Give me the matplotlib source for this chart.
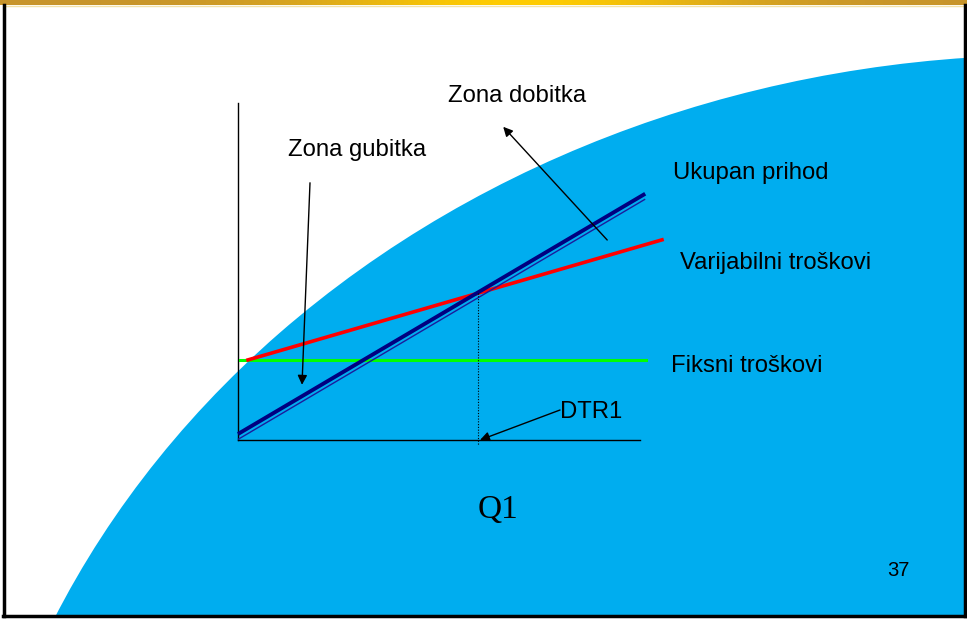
import numpy as np
import matplotlib
matplotlib.use('Agg')
import matplotlib.pyplot as plt
from matplotlib.patches import Ellipse, Rectangle

# podaci (Q u jedinicama, troskovi/prihod u jedinicama)
q_fiksni = [0.05, 10.2]
fiksni = [2.0, 2.0]
q_var = [0.25, 10.6]
var_tr = [1.93 + 0.29 * 0.25, 1.93 + 0.29 * 10.6]
q_prihod = [0.0, 10.18]
prihod = [0.15, 0.15 + 0.59 * 10.18]
q_dtr = 6.0
c_dtr = 1.93 + 0.29 * q_dtr

W, H = 967, 619
fig = plt.figure(figsize=(W / 100, H / 100), dpi=100)

# pozadina slajda
bg = fig.add_axes([0, 0, 1, 1])
bg.set_xlim(0, W)
bg.set_ylim(H, 0)
bg.axis('off')
okvir = Rectangle((4, 0), W - 7, H - 4, facecolor='white', edgecolor='none')
bg.add_patch(okvir)
el = Ellipse((1050, 1005), 2180, 1900, facecolor='#00adef', edgecolor='none')
bg.add_patch(el)
el.set_clip_path(okvir)

# zlatna traka gore
t = np.linspace(0, 1, 400)
g = np.exp(-((t - 0.54) / 0.22) ** 2)
c1 = np.array([0.78, 0.58, 0.17])
c2 = np.array([1.0, 0.80, 0.0])
traka = (c1[None, :] * (1 - g[:, None]) + c2[None, :] * g[:, None])[None, :, :]
bg.imshow(traka, extent=[0, W, 5, 0], aspect='auto', zorder=3)
bg.plot([4, W - 3], [6, 6], color='#f3e2a8', lw=1, zorder=3)
bg.plot([4, 4], [5, H - 3], color='black', lw=2.5, zorder=4)
bg.plot([W - 2.5, W - 2.5], [5, H - 3], color='black', lw=2.5, zorder=4)
bg.plot([3, W - 1], [H - 3.5, H - 3.5], color='black', lw=2.5, zorder=4)
bg.set_xlim(0, W)
bg.set_ylim(H, 0)

# grafikon
ax = fig.add_axes([0, 0, 1, 1])
ax.patch.set_alpha(0)
ax.axis('off')
ax.set_xlim(-238 / 40, (W - 238) / 40)
ax.set_ylim((440 - H) / 40, 440 / 40)

ax.plot([0, 0], [0, 8.425], color='black', lw=1)
ax.plot([0, 10.05], [0, 0], color='black', lw=1)
ax.plot(q_fiksni, fiksni, color='#00ff00', lw=2.2)
ax.plot(q_var, var_tr, color='#ff0000', lw=2.6)
ax.plot(q_prihod, prihod, color='#000080', lw=2.8, solid_capstyle='butt')
ax.plot(q_prihod, [p - 0.135 for p in prihod], color='#1c1c9c', lw=1,
        solid_capstyle='butt')
ax.plot([q_dtr, q_dtr], [c_dtr, -0.125], color='black', lw=0.8, ls=(0, (1, 1.5)))

fnt = dict(family='Liberation Sans', fontsize=17.2, color='black')
ax.text(6.98, 8.6, 'Zona dobitka', ha='center', va='center', **fnt)
ax.text(1.25, 7.25, 'Zona gubitka', ha='left', va='center', **fnt)
ax.text(10.87, 6.68, 'Ukupan prihod', ha='left', va='center', **fnt)
ax.text(11.05, 4.43, 'Varijabilni troškovi', ha='left', va='center', **fnt)
ax.text(10.83, 1.85, 'Fiksni troškovi', ha='left', va='center', **fnt)
ax.text(8.05, 0.7, 'DTR1', ha='left', va='center', **fnt)
ax.text(6.5, -1.75, 'Q1', ha='center', va='center', family='Liberation Serif',
        fontsize=24, color='black')
ax.text(16.5, -3.27, '37', ha='center', va='center', family='Liberation Sans',
        fontsize=14.5, color='black')

ap = dict(arrowstyle='-|>', color='black', lw=1, mutation_scale=14, shrinkA=0, shrinkB=0)
ax.annotate('', xy=(1.6, 1.38), xytext=(1.8, 6.43), arrowprops=ap)
ax.annotate('', xy=(6.63, 7.83), xytext=(9.23, 5.0), arrowprops=ap)
ax.annotate('', xy=(6.05, 0.0), xytext=(8.05, 0.75), arrowprops=ap)

fig.savefig('out.png', dpi=100)
